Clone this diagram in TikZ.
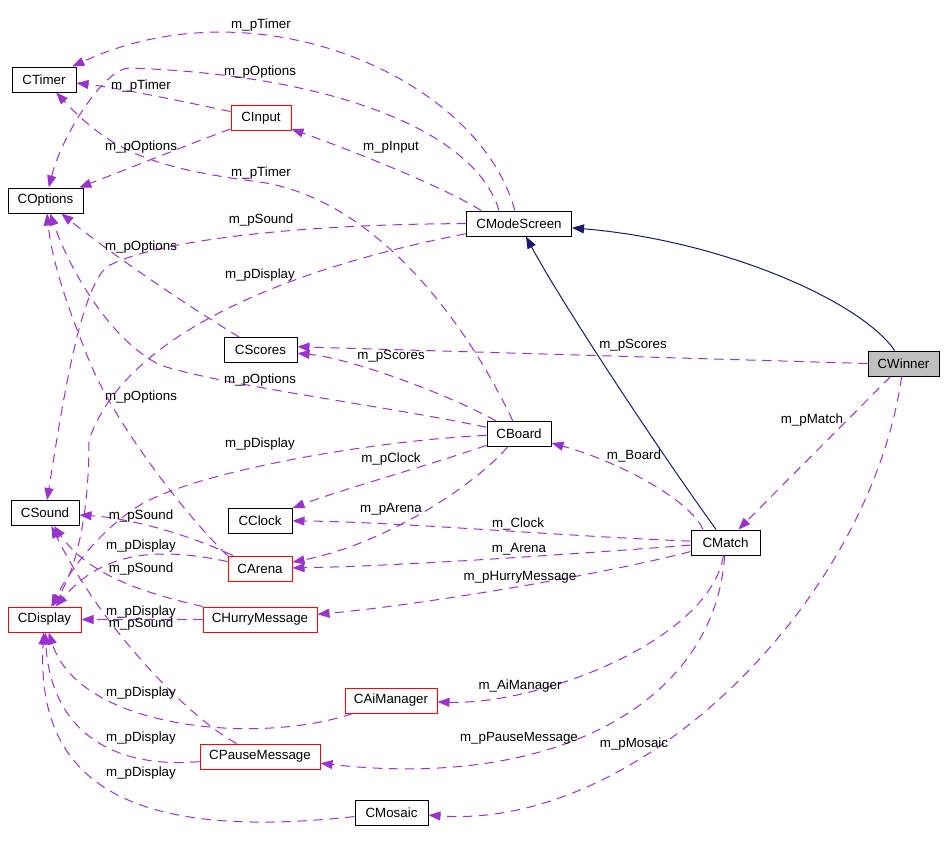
\documentclass[tikz,border=0pt]{standalone}
\usepackage{fontspec}
\setmainfont{Liberation Sans}
\usetikzlibrary{arrows.meta}
\definecolor{usePurple}{HTML}{9A32CD}
\definecolor{inhNavy}{HTML}{191970}
\definecolor{winGrey}{HTML}{BFBFBF}

\begin{document}
\begin{tikzpicture}[x=0.75pt, y=-0.75pt,
   cls/.style={rectangle, draw=black, line width=0.75pt, minimum height=18.75pt,
               inner sep=0pt, font=\fontsize{10}{12}\selectfont},
   redcls/.style={cls, draw=red},
   wincls/.style={cls, fill=winGrey},
   usage/.style={draw=usePurple, line width=0.75pt, dash pattern=on 7pt off 5pt,
                 -{Triangle[length=9pt,width=6.75pt]}},
   inherit/.style={draw=inhNavy, line width=0.75pt,
                   -{Triangle[length=9pt,width=6.75pt]}},
   lbl/.style={font=\fontsize{10}{12}\selectfont, inner sep=0pt}]

\useasboundingbox (0,0) rectangle (944,844);

% classes
\node[cls, minimum width=48pt]       (ctimer)   at (44,79.5)    {CTimer};
\node[redcls, minimum width=45pt]    (cinput)   at (261,118)    {CInput};
\node[cls, minimum width=56.25pt]    (coptions) at (45.5,200.5) {COptions};
\node[cls, minimum width=78.75pt]    (cmode)    at (519,223.5)  {CModeScreen};
\node[wincls, minimum width=53.25pt] (cwinner)  at (903.5,363.5) {CWinner};
\node[cls, minimum width=54.75pt]    (cscores)  at (260.5,350)  {CScores};
\node[cls, minimum width=48pt]       (cboard)   at (519,434)    {CBoard};
\node[cls, minimum width=51pt]       (csound)   at (45,513)     {CSound};
\node[cls, minimum width=48pt]       (cclock)   at (260,520.5)  {CClock};
\node[redcls, minimum width=48pt]    (carena)   at (260,568.5)  {CArena};
\node[redcls, minimum width=54.75pt] (cdisplay) at (44.5,619.5) {CDisplay};
\node[redcls, minimum width=85.5pt]  (churry)   at (260,619.5)  {CHurryMessage};
\node[cls, minimum width=51.75pt]    (cmatch)   at (725.5,542.5) {CMatch};
\node[redcls, minimum width=69pt]    (caiman)   at (391,700.5)  {CAiManager};
\node[redcls, minimum width=90pt]    (cpause)   at (260,756.5)  {CPauseMessage};
\node[cls, minimum width=54.75pt]    (cmosaic)  at (391.5,812.5) {CMosaic};

% inheritance
\draw[inherit] (cwinner) .. controls (860,300) and (720,240) .. (cmode);
\draw[inherit] (cmatch) .. controls (655,445) and (560,300) .. (cmode);

% members of CModeScreen and CInput
\draw[usage] (cmode.108) .. controls (480,80) and (260,-20) .. (ctimer);
\draw[usage] (cmode.147) .. controls (475,130) and (330,75) .. (130,68)
             .. controls (105,67) and (62,135) .. (coptions);
\draw[usage] (cmode.161) .. controls (440,185) and (350,150) .. (cinput);
\draw[usage] (cinput) .. controls (190,103) and (120,88) .. (ctimer);
\draw[usage] (cinput) .. controls (200,140) and (130,168) .. (coptions);
\draw[usage] (cmode) .. controls (300,224) and (160,240) .. (110,265)
             .. controls (80,280) and (60,420) .. (csound);
\draw[usage] (cmode) .. controls (330,260) and (130,320) .. (89,440)
             .. controls (89,520) and (75,570) .. (cdisplay);

% members of CBoard, CScores, CArena
\draw[usage] (cboard) .. controls (470,330) and (380,200) .. (260,182)
             .. controls (150,168) and (110,150) .. (ctimer);
\draw[usage] (cscores) .. controls (170,295) and (100,245) .. (coptions);
\draw[usage] (cboard) .. controls (380,405) and (220,385) .. (160,365)
             .. controls (110,340) and (70,270) .. (coptions);
\draw[usage] (carena.north west) .. controls (190,520) and (110,420) .. (85,350)
             .. controls (65,300) and (52,260) .. (coptions);
\draw[usage] (cboard) .. controls (380,440) and (200,470) .. (140,505)
             .. controls (100,530) and (70,570) .. (cdisplay);
\draw[usage] (cboard) .. controls (450,395) and (350,358) .. (cscores);
\draw[usage] (cboard) .. controls (430,465) and (340,490) .. (cclock);
\draw[usage] (cboard) .. controls (470,490) and (380,545) .. (carena);
\draw[usage] (carena) .. controls (190,535) and (130,518) .. (csound);
\draw[usage] (carena) .. controls (150,545) and (100,555) .. (cdisplay);

% members of CWinner and CMatch
\draw[usage] (cwinner.west) -- (cscores.5);
\draw[usage] (cwinner) -- (cmatch);
\draw[usage] (cwinner) .. controls (870,600) and (640,830) .. (cmosaic);
\draw[usage] (cmatch.150) .. controls (690,500) and (620,462) .. (cboard);
\draw[usage] (cmatch) .. controls (560,536) and (400,522) .. (cclock);
\draw[usage] (cmatch) .. controls (560,555) and (400,566) .. (carena);
\draw[usage] (cmatch) .. controls (600,575) and (420,605) .. (churry);
\draw[usage] (cmatch) .. controls (710,640) and (540,705) .. (caiman);
\draw[usage] (cmatch) .. controls (715,700) and (560,790) .. (cpause);

% members of the message classes
\draw[usage] (churry) .. controls (130,590) and (85,570) .. (csound);
\draw[usage] (churry) -- (cdisplay);
\draw[usage] (cpause) .. controls (185,715) and (100,625) .. (csound);
\draw[usage] (caiman) .. controls (260,745) and (80,730) .. (cdisplay);
\draw[usage] (cpause) .. controls (100,770) and (50,720) .. (cdisplay);
\draw[usage] (cmosaic) .. controls (140,840) and (35,790) .. (cdisplay);

% edge labels
\node[lbl] (l1)  at (261,25)  {m\_pTimer};
\node[lbl] (l2)  at (260,72)  {m\_pOptions};
\node[lbl] (l3)  at (141,86)  {m\_pTimer};
\node[lbl] (l4)  at (391,147) {m\_pInput};
\node[lbl] (l5)  at (141,147) {m\_pOptions};
\node[lbl] (l6)  at (261,173) {m\_pTimer};
\node[lbl] (l7)  at (261,220) {m\_pSound};
\node[lbl] (l8)  at (141,247) {m\_pOptions};
\node[lbl] (l9)  at (260,275) {m\_pDisplay};
\node[lbl] (l10) at (633,345) {m\_pScores};
\node[lbl] (l11) at (391,356) {m\_pScores};
\node[lbl] (l12) at (260,380) {m\_pOptions};
\node[lbl] (l13) at (141,397) {m\_pOptions};
\node[lbl] (l14) at (812,420) {m\_pMatch};
\node[lbl] (l15) at (260,444) {m\_pDisplay};
\node[lbl] (l16) at (634,456) {m\_Board};
\node[lbl] (l17) at (391,459) {m\_pClock};
\node[lbl] (l18) at (391,509) {m\_pArena};
\node[lbl] (l19) at (141,516) {m\_pSound};
\node[lbl] (l20) at (518,524) {m\_Clock};
\node[lbl] (l21) at (141,546) {m\_pDisplay};
\node[lbl] (l22) at (519,549) {m\_Arena};
\node[lbl] (l23) at (141,569) {m\_pSound};
\node[lbl] (l24) at (520,577) {m\_pHurryMessage};
\node[lbl] (l25) at (141,612) {m\_pDisplay};
\node[lbl] (l26) at (141,624) {m\_pSound};
\node[lbl] (l27) at (520,686) {m\_AiManager};
\node[lbl] (l28) at (141,693) {m\_pDisplay};
\node[lbl] (l29) at (141,738) {m\_pDisplay};
\node[lbl] (l30) at (519,738) {m\_pPauseMessage};
\node[lbl] (l31) at (634,744) {m\_pMosaic};
\node[lbl] (l32) at (141,773) {m\_pDisplay};
\end{tikzpicture}
\end{document}
